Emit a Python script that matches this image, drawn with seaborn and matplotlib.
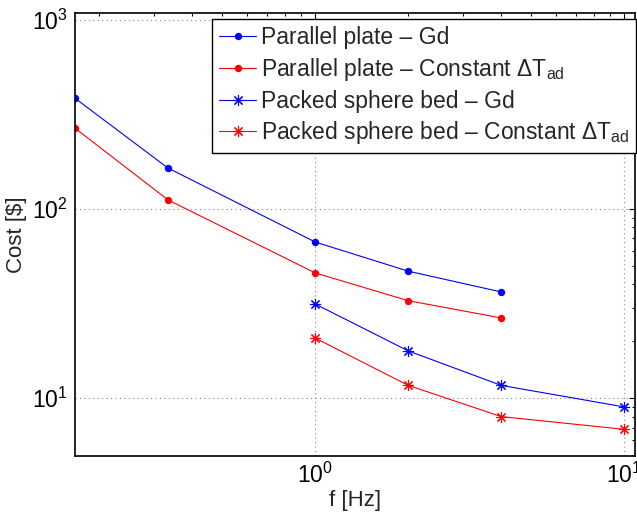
import matplotlib
matplotlib.use("Agg")
import matplotlib.pyplot as plt
import seaborn as sns
import pandas as pd
from matplotlib.ticker import LogLocator, NullFormatter

# Data
f_plate = [1/6, 1/3, 1, 2, 4]
plate_gd = [386, 165, 67, 47, 36.5]
plate_const = [268, 112, 46, 32.8, 26.6]
f_sphere = [1, 2, 4, 10]
sphere_gd = [31.5, 17.8, 11.7, 9.0]
sphere_const = [20.8, 11.7, 8.0, 6.85]

labels = ["Parallel plate \u2013 Gd",
          "Parallel plate \u2013 Constant $\\Delta\\mathrm{T}_{\\mathrm{ad}}$",
          "Packed sphere bed \u2013 Gd",
          "Packed sphere bed \u2013 Constant $\\Delta\\mathrm{T}_{\\mathrm{ad}}$"]

sns.set_style("white")
plt.rcParams['font.family'] = ['Liberation Sans', 'DejaVu Sans']
plt.rcParams['mathtext.fontset'] = 'custom'
plt.rcParams['mathtext.rm'] = 'Liberation Sans'
plt.rcParams['mathtext.it'] = 'Liberation Sans:italic'
plt.rcParams['mathtext.bf'] = 'Liberation Sans:bold'

fig = plt.figure(figsize=(6.37, 5.16), dpi=100)
ax = fig.add_axes([75/637, 1 - 456/516, 560/637, 443/516])

series = [
    (f_plate, plate_gd, "blue", "o", 4.5, labels[0]),
    (f_plate, plate_const, "red", "o", 4.5, labels[1]),
    (f_sphere, sphere_gd, "blue", (8, 2, 0), 8, labels[2]),
    (f_sphere, sphere_const, "red", (8, 2, 0), 8, labels[3]),
]
for xs, ys, c, m, ms, lab in series:
    df = pd.DataFrame({"f": xs, "cost": ys})
    sns.lineplot(data=df, x="f", y="cost", ax=ax, color=c, marker=m,
                 markersize=ms, markeredgecolor=c, markerfacecolor=c,
                 markeredgewidth=0.8, linewidth=0.8, label=lab, sort=False)

ax.set_xscale("log")
ax.set_yscale("log")
ax.set_xlim(1/6, 10.85)
ax.set_ylim(4.95, 1090)

ax.xaxis.set_major_locator(LogLocator(base=10, numticks=10))
ax.yaxis.set_major_locator(LogLocator(base=10, numticks=10))
ax.xaxis.set_minor_locator(LogLocator(base=10, subs=range(2, 10), numticks=20))
ax.yaxis.set_minor_locator(LogLocator(base=10, subs=range(2, 10), numticks=20))
ax.xaxis.set_minor_formatter(NullFormatter())
ax.yaxis.set_minor_formatter(NullFormatter())

ax.grid(True, which="major", linestyle=(0, (1, 3)), color="#888888", linewidth=0.8)
ax.tick_params(which="both", direction="in", top=True, right=True,
               labelsize=16.5, colors="black")
ax.tick_params(which="major", length=4, width=0.8, pad=5)
ax.tick_params(which="minor", length=2.5, width=0.8)
for s in ax.spines.values():
    s.set_color("black")
    s.set_linewidth(1.2)

ax.set_xlabel("f [Hz]", fontsize=16, labelpad=1)
ax.set_ylabel("Cost [$]", fontsize=16, labelpad=4)

leg = ax.legend(loc="upper right", bbox_to_anchor=(1.002, 0.9865), borderaxespad=0,
                fontsize=16.5, frameon=True, fancybox=False, edgecolor="black",
                framealpha=1, handlelength=1.6, handletextpad=0.2,
                borderpad=0.3, labelspacing=0.3)
leg.get_frame().set_linewidth(1.0)

fig.savefig("out.png", dpi=100)
